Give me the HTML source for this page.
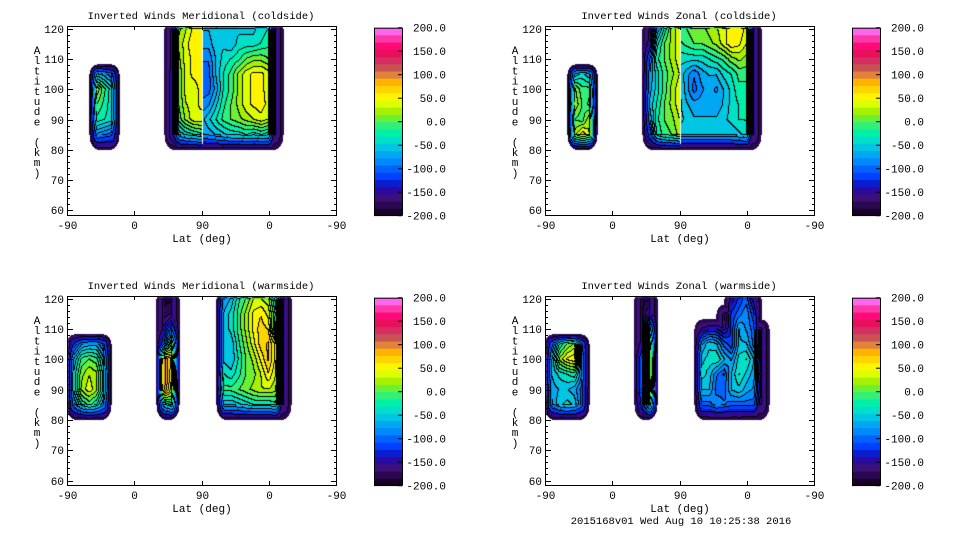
<!DOCTYPE html>
<html><head><meta charset="utf-8">
<style>
html,body{margin:0;padding:0;background:#fff;}
#wrap{position:relative;width:960px;height:540px;overflow:hidden;}
canvas,svg{position:absolute;left:0;top:0;}
text{font-family:"Liberation Mono","DejaVu Sans Mono",monospace;fill:#000;}
</style></head>
<body>
<div id="wrap">
<canvas id="cv" width="960" height="540"></canvas>
<svg id="sv" width="960" height="540"></svg>
</div>
<script>
const _ = null;
// altitude rows (km) for every block, top to bottom
const altRows = [120,115,110,105,100,95,90,85];
const colStep = 10; // lat-position units between grid columns
const levelMin = -200, levelMax = 200;
const cbTicks = [200,150,100,50,0,-50,-100,-150,-200];
const xTicks = ["-90","0","90","0","-90"];
const yTicks = [60,70,80,90,100,110,120];
const bandColors = ["#180028","#2a0850","#3c1078","#2a0aa0","#0a1ed0","#0040ff","#0062ff","#0088ff","#00a8f4","#00c6e4","#00e0c8","#00f0a8","#30f07a","#6cf034","#a6f000","#dcff00","#fff400","#ffd400","#ffb200","#e0823a","#c85252","#d42e62","#e8105a","#ff0a78","#ff38aa","#ff66ee"];

// Top-left: Meridional coldside
const tlBlock1U0 = 40;
const tlBlock1 = [
 [_,_,_],[_,_,_],[_,_,_],
 [-60,-70,-90],
 [30,-10,-40],
 [0,-20,-40],
 [-20,-30,-40],
 [-80,-90,-100]];
const tlBlock2U0 = 140;
const tlBlock2 = [
 [-190,10,30,50,50],
 [-190,20,40,60,60],
 [-180,10,40,50,50],
 [-160,0,40,50,50],
 [-160,0,40,40,50],
 [-160,0,30,40,50],
 [-160,-10,20,40,40],
 [-150,-60,-40,-30,-20]];
const tlBlock3U0 = 180;
const tlBlock3 = [
 [-60,-60,-50,-60,-60,-50,-50,-50,-40,-30,-190],
 [-70,-70,-50,-50,-60,-40,-40,-40,-30,-20,-190],
 [-90,-90,-60,-40,-30,-20,0,10,10,0,-190],
 [-100,-100,-60,-30,-10,20,40,50,50,40,-190],
 [-100,-100,-70,-30,-10,20,40,50,50,40,-190],
 [-90,-80,-50,-20,0,20,40,50,55,40,-190],
 [-70,-50,-30,-10,0,10,20,30,40,30,-190],
 [-80,-70,-60,-50,-40,-40,-30,-40,-30,-40,-190]];

// Top-right: Zonal coldside
const trBlock1U0 = 40;
const trBlock1 = [
 [_,_,_],[_,_,_],[_,_,_],
 [-60,-40,-60],
 [20,-10,-10],
 [30,0,-20],
 [0,-10,30],
 [20,60,30]];
const trBlock2U0 = 140;
const trBlock2 = [
 [-190,-80,-30,20,40],
 [-150,-40,0,20,40],
 [-100,-20,0,20,40],
 [-80,-40,-10,10,30],
 [-70,-40,-10,20,40],
 [-60,-30,0,20,40],
 [-80,-20,0,10,30],
 [-120,-30,-10,0,20]];
const trBlock3U0 = 180;
const trBlock3 = [
 [0,0,10,10,20,30,40,60,60,40,-190],
 [-20,-10,0,0,10,20,40,60,50,30,-190],
 [-40,-40,-40,-40,-30,-20,-10,10,20,10,-190],
 [-50,-70,-90,-70,-60,-60,-40,-30,-10,-10,-190],
 [-40,-70,-100,-80,-70,-80,-60,-40,-20,-20,-190],
 [-40,-60,-70,-70,-70,-70,-60,-40,-30,-20,-190],
 [-40,-50,-60,-60,-60,-60,-50,-40,-30,-30,-190],
 [-60,-60,-60,-60,-60,-60,-60,-60,-50,-40,-190]];

// Bottom-left: Meridional warmside
const blBlock1U0 = 10;
const blBlock1 = [
 [_,_,_,_,_],[_,_,_,_,_],[_,_,_,_,_],
 [-120,-80,-70,-70,-100],
 [-60,-10,0,-10,-60],
 [-40,10,30,20,-40],
 [-40,20,40,20,-40],
 [-80,-30,-10,-30,-80]];
const blBlock2U0 = 130;
const blBlock2 = [
 [-190,-190],
 [-180,-170],
 [-150,-100],
 [-100,0],
 [100,60],
 [110,50],
 [100,40],
 [-50,-20]];
const blBlock3U0 = 210;
const blBlock3 = [
 [-80,-60,-20,0,30,30,20,-40,-190],
 [-60,-40,-10,20,50,60,40,-20,-190],
 [-60,-40,-10,20,50,70,60,-30,-190],
 [-60,-60,-20,10,40,70,80,40,-190],
 [-50,-60,-30,0,20,50,80,40,-190],
 [-30,-40,-20,0,10,30,60,30,-190],
 [-10,-10,0,10,20,30,30,20,-190],
 [-60,-60,-50,-40,-30,-30,-30,-20,-190]];

// Bottom-right: Zonal warmside
const brBlock1U0 = 10;
const brBlock1 = [
 [_,_,_,_,_],[_,_,_,_,_],[_,_,_,_,_],
 [-100,-30,0,20,-110],
 [-60,20,50,60,-90],
 [-60,-40,-30,-20,-80],
 [-70,-60,-60,-70,-100],
 [-80,-50,-40,-50,-100]];
const brBlock2U0 = 130;
const brBlock2 = [
 [-190,-190],
 [-190,-150],
 [-190,-50],
 [-150,20],
 [-100,40],
 [-100,40],
 [-100,60],
 [-120,-20]];
const brBlock3U0 = 210;
const brBlock3 = [
 [_,_,_,_,-150,-120,-100,-150,_],
 [_,_,_,-180,-120,-100,-80,-120,_],
 [-160,-140,-140,-160,-120,-60,-80,-100,-190],
 [-80,-50,-60,-100,-120,-60,-60,-100,-190],
 [-50,-40,-30,-60,-80,-40,-30,-60,-170],
 [-40,-50,-90,-110,-60,-30,-50,-70,-170],
 [-60,-60,-100,-100,-60,-50,-70,-80,-160],
 [-100,-100,-80,-90,-100,-100,-100,-100,-170]];

const panels = [
 {name:"meridional-coldside", title:"Inverted Winds Meridional (coldside)", dx:0, dy:0, gap:true,
  blocks:[[tlBlock1U0,tlBlock1],[tlBlock2U0,tlBlock2],[tlBlock3U0,tlBlock3]]},
 {name:"zonal-coldside", title:"Inverted Winds Zonal (coldside)", dx:478, dy:0, gap:true,
  blocks:[[trBlock1U0,trBlock1],[trBlock2U0,trBlock2],[trBlock3U0,trBlock3]]},
 {name:"meridional-warmside", title:"Inverted Winds Meridional (warmside)", dx:0, dy:270, gap:false,
  blocks:[[blBlock1U0,blBlock1],[blBlock2U0,blBlock2],[blBlock3U0,blBlock3]]},
 {name:"zonal-warmside", title:"Inverted Winds Zonal (warmside)", dx:478, dy:270, gap:false,
  blocks:[[brBlock1U0,brBlock1],[brBlock2U0,brBlock2],[brBlock3U0,brBlock3]]}
];

// geometry
const PX0=67, PX1=336, FT=26, FB=215, RX=8, RY=15;
function xScale(u,p){return p.dx+PX0+u*(PX1-PX0)/360;}
function yScale(a,p){return p.dy+28.7+(120-a)*3.03;}
function bandOf(v){let b=Math.floor((v-levelMin)/(levelMax-levelMin)*bandColors.length);return Math.max(0,Math.min(bandColors.length-1,b));}
function hex(c){return [parseInt(c.slice(1,3),16),parseInt(c.slice(3,5),16),parseInt(c.slice(5,7),16)];}
const rgb = bandColors.map(hex);

const cv=document.getElementById('cv'), ctx=cv.getContext('2d');
const img=ctx.createImageData(960,540);
const W=960;
const val=new Float32Array(960*540).fill(NaN);
const band=new Int16Array(960*540).fill(-1);
const rim=new Uint8Array(960*540);
panels.forEach(p=>{
  p.blocks.forEach(([u0,rows])=>{
    for(let j=0;j<altRows.length-1;j++){
      const r0=rows[j], r1=rows[j+1];
      for(let i=0;i<r0.length-1;i++){
        const a=r0[i],b=r0[i+1],c=r1[i],d=r1[i+1];
        if(a===null||b===null||c===null||d===null) continue;
        const x0=xScale(u0+i*colStep,p), x1=xScale(u0+(i+1)*colStep,p);
        const y0=yScale(altRows[j],p), y1=yScale(altRows[j+1],p);
        for(let y=Math.round(y0);y<Math.round(y1);y++){
          const ty=(y+0.5-y0)/(y1-y0);
          for(let x=Math.round(x0);x<Math.round(x1);x++){
            const tx=(x+0.5-x0)/(x1-x0);
            val[y*W+x]=(a*(1-tx)+b*tx)*(1-ty)+(c*(1-tx)+d*tx)*ty;
          }
        }
      }
    }
  });
  const xa=p.dx+PX0+1, xb=p.dx+PX1, ya=p.dy+FT+1, yb=p.dy+FB;
  for(let y=ya;y<yb;y++)for(let x=xa;x<xb;x++){
    const k=y*W+x;
    if(!isNaN(val[k])){band[k]=bandOf(val[k]);continue;}
    let best=1e9,bv=0;
    for(let dy=-RY;dy<=RY;dy++){
      const ry=dy>0?RY:10;
      for(let dx=-RX;dx<=RX;dx++){
        const d2=(dx/RX)*(dx/RX)+(dy/ry)*(dy/ry); if(d2>=best||d2>1) continue;
        const v=val[(y-dy)*W+x+dx];
        if(!isNaN(v)){best=d2;bv=v;}
      }
    }
    if(best<1e9){
      const t=Math.sqrt(best);
      const ve=Math.max(bv,-150);
      band[k]=bandOf(ve+(-180-ve)*t);
      rim[k]=1;
    }
  }
  if(p.gap){
    const gx=Math.round(xScale(180,p));
    for(let y=ya;y<Math.round(yScale(82,p));y++){band[y*W+gx]=-1;}
  }
});
for(let y=0;y<540;y++)for(let x=0;x<960;x++){
  const k=y*W+x, b=band[k], o=k*4;
  if(b<0){img.data[o]=255;img.data[o+1]=255;img.data[o+2]=255;img.data[o+3]=255;continue;}
  let c=rgb[b];
  const br=x<959?band[k+1]:-1, bd=y<539?band[k+W]:-1;
  const diff=(br>=0&&br!==b)||(bd>=0&&bd!==b);
  if(diff&&(!rim[k]||b%2===0)) c=[0,0,0];
  img.data[o]=c[0];img.data[o+1]=c[1];img.data[o+2]=c[2];img.data[o+3]=255;
}
ctx.putImageData(img,0,0);

// axes
const NS="http://www.w3.org/2000/svg", sv=document.getElementById('sv');
function el(tag,attrs,parent,txt){const e=document.createElementNS(NS,tag);for(const k in attrs)e.setAttribute(k,attrs[k]);if(txt!==undefined)e.textContent=txt;(parent||sv).appendChild(e);return e;}
panels.forEach(p=>{
  const g=el('g',{});
  
  
  const t=el('text',{x:p.dx+201,y:p.dy+19,'font-size':'10.5','text-anchor':'middle'},g,p.title);
  
  
  const fr=el('rect',{x:p.dx+PX0+0.5,y:p.dy+FT+0.5,width:PX1-PX0,height:FB-FT,fill:'none',stroke:'#000','stroke-width':1},g);
  
  
  for(let a=60;a<=120;a+=2){
    const y=Math.round(yScale(a,p))+0.5, L=(a%10===0)?6:3;
    el('line',{x1:p.dx+PX0,x2:p.dx+PX0+L,y1:y,y2:y,stroke:'#000'},g);
    el('line',{x1:p.dx+PX1+1-L,x2:p.dx+PX1+1,y1:y,y2:y,stroke:'#000'},g);
  }
  yTicks.forEach(a=>{
    const tl=el('text',{x:p.dx+64,y:Math.round(yScale(a,p))+4,'font-size':'11','text-anchor':'end'},g,String(a));
    
    
  });
  xTicks.forEach((lab,i)=>{
    const x=Math.round(xScale(i*90,p))+0.5;
    el('line',{x1:x,x2:x,y1:p.dy+FB,y2:p.dy+FB-4,stroke:'#000'},g);
    el('line',{x1:x,x2:x,y1:p.dy+FT,y2:p.dy+FT+4,stroke:'#000'},g);
    const tl=el('text',{x:x,y:p.dy+229,'font-size':'11','text-anchor':'middle'},g,lab);
    
    
  });
  const xt=el('text',{x:p.dx+202,y:p.dy+242,'font-size':'11','text-anchor':'middle'},g,'Lat (deg)');
  
  
  const yt=el('text',{x:p.dx+37,y:p.dy+54,'font-size':'11','text-anchor':'middle'},g);
  
  
  'Altitude (km)'.split('').forEach((ch,i)=>{el('tspan',{x:p.dx+37,y:p.dy+54+i*10.2},yt,ch===' '?'\u00a0':ch);});
  const cb=el('g',{},g);
  
  
  const cx=p.dx+374, cw=28, ct=p.dy+27.7, cbm=p.dy+215.7, n=bandColors.length, bh=(cbm-ct)/n;
  bandColors.forEach((c,i)=>{el('rect',{x:cx,y:cbm-(i+1)*bh,width:cw,height:bh+0.4,fill:c},cb);});
  el('rect',{x:cx+0.5,y:ct+0.5,width:cw,height:cbm-ct-1,fill:'none',stroke:'#000'},cb);
  cbTicks.forEach(v=>{
    const y=cbm-(v-levelMin)/(levelMax-levelMin)*(cbm-ct);
    el('line',{x1:cx+cw-4,x2:cx+cw,y1:y,y2:y,stroke:'#000'},cb);
    const tl=el('text',{x:p.dx+446,y:y+4,'font-size':'11','text-anchor':'end'},cb,v.toFixed(1));
    
    
  });
});
const ft=el('text',{x:681,y:524,'font-size':'10.5','text-anchor':'middle'},sv,'2015168v01 Wed Aug 10 10:25:38 2016');


</script>
</body></html>
